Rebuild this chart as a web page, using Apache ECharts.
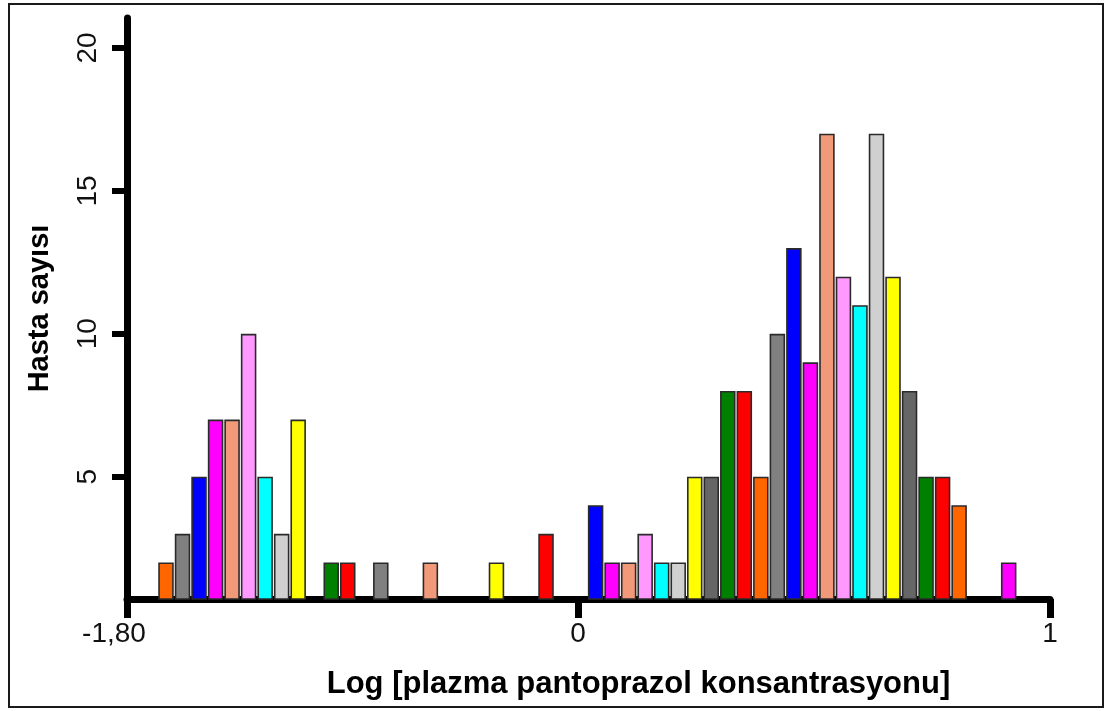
<!DOCTYPE html>
<html>
<head>
<meta charset="utf-8">
<title>Hasta sayısı – Log plazma pantoprazol konsantrasyonu</title>
<script src="https://cdn.jsdelivr.net/npm/echarts@6/dist/echarts.min.js"></script>
<style>
  html, body { margin: 0; padding: 0; background: #fff; }
  #chart { width: 1107px; height: 711px; }
  #frame {
    position: absolute; left: 8px; top: 3px; width: 1096px; height: 705px;
    box-sizing: border-box; border: 2px solid #1a1a1a; pointer-events: none;
  }
</style>
</head>
<body>
<div id="chart"></div>
<div id="frame"></div>
<script>
// Histogram bins, left to right (bin number along the x axis)
const binCounts = [
  2, 3, 5, 7, 7, 10, 5, 3, 7, 0,
  2, 2, 0, 2, 0, 0, 2, 0, 0, 0,
  2, 0, 0, 3, 0, 0, 4, 2, 2, 3,
  2, 2, 5, 5, 8, 8, 5, 10, 13, 9,
  17, 12, 11, 17, 12, 8, 5, 5, 4, 0,
  0, 2
];

// Colour cycle used for the bins
const binColors = [
  '#FF6600', '#808080', '#0000FF', '#FF00FF', '#F2997A', '#FF99FF',
  '#00FFFF', '#D0D0D0', '#FFFF00', '#666666', '#008000', '#FF0000'
];

// x axis: where the ticks sit (in bin numbers) and what they read
const xRange = [-2.36, 53.5];
const xTickAt = [-2.36, 24.93, 53.5];
const xTickLabels = ['-1,80', '0', '1'];

// y axis: patient counts
const yRange = [0.72, 21.05];
const yTicks = [5, 10, 15, 20];

const FONT = '"Liberation Sans", Arial, sans-serif';

const chart = echarts.init(document.getElementById('chart'), null, { renderer: 'canvas' });

const barData = binCounts.map((c, i) => ({
  value: [i, c > 0 ? c : '-'],
  itemStyle: { color: binColors[i % binColors.length] }
}));

chart.setOption({
  animation: false,
  backgroundColor: '#ffffff',
  grid: {
    left: 127, right: 57, top: 18, bottom: 112,
    containLabel: false, outerBoundsMode: 'none'
  },
  xAxis: {
    type: 'value',
    min: xRange[0],
    max: xRange[1],
    splitLine: { show: false },
    axisLine: { show: true, onZero: false, lineStyle: { color: '#000', width: 7 } },
    axisTick: {
      show: true, length: 19, customValues: xTickAt,
      lineStyle: { color: '#000', width: 7 }
    },
    axisLabel: {
      show: true, margin: 21, customValues: xTickAt,
      fontFamily: FONT, fontSize: 28, color: '#111',
      formatter: function (v) {
        const k = xTickAt.findIndex(t => Math.abs(t - v) < 1e-6);
        const txt = k >= 0 ? xTickLabels[k] : '';
        return k === 0 ? '{neg|' + txt + '}' : txt;
      },
      rich: {
        neg: { fontFamily: FONT, fontSize: 28, color: '#111', padding: [0, 26, 0, 0] }
      }
    },
    name: 'Log [plazma pantoprazol konsantrasyonu]',
    nameLocation: 'middle',
    nameGap: 70,
    nameTextStyle: {
      fontFamily: FONT, fontWeight: 'bold', fontSize: 31, color: '#000',
      padding: [0, 0, 0, 100]
    }
  },
  yAxis: {
    type: 'value',
    min: yRange[0],
    max: yRange[1],
    splitLine: { show: false },
    axisLine: { show: true, onZero: false, lineStyle: { color: '#000', width: 7 } },
    axisTick: {
      show: true, length: 15, customValues: yTicks,
      lineStyle: { color: '#000', width: 6 }
    },
    axisLabel: {
      show: true, margin: 25, rotate: 90, customValues: yTicks,
      fontFamily: FONT, fontSize: 28, color: '#111'
    },
    name: 'Hasta sayısı',
    nameLocation: 'middle',
    nameRotate: 90,
    nameGap: 73,
    nameTextStyle: {
      fontFamily: FONT, fontWeight: 'bold', fontSize: 29, color: '#000'
    }
  },
  series: [{
    type: 'bar',
    data: barData,
    barWidth: 15.5,
    clip: true,
    itemStyle: { borderColor: '#2a2a2a', borderWidth: 1.6 }
  }]
});
</script>
</body>
</html>
